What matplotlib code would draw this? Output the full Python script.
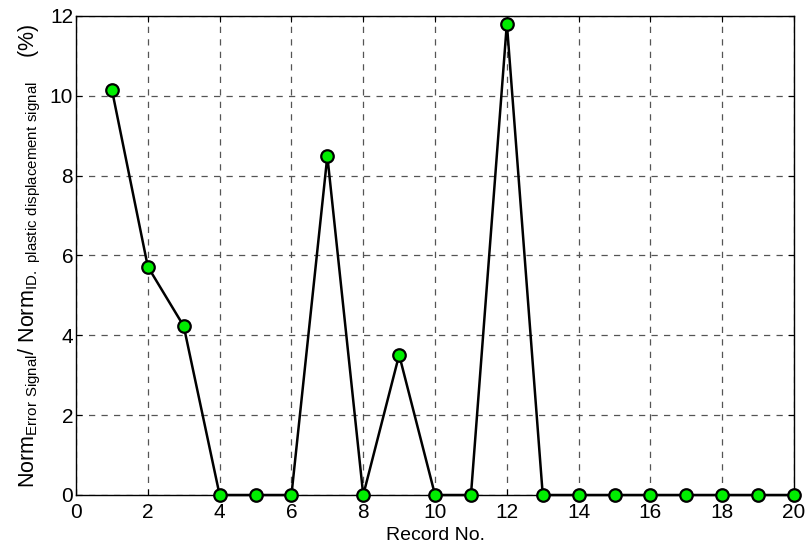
import matplotlib
matplotlib.use("Agg")
import matplotlib.pyplot as plt

plt.rcParams['font.family'] = ['Liberation Sans', 'DejaVu Sans']
plt.rcParams['mathtext.fontset'] = 'custom'
plt.rcParams['mathtext.rm'] = 'Liberation Sans'

# Data
records = list(range(1, 21))
ratio = [10.15, 5.72, 4.23, 0, 0, 0, 8.49, 0, 3.51, 0,
         0, 11.81, 0, 0, 0, 0, 0, 0, 0, 0]
xticks = list(range(0, 21, 2))
yticks = list(range(0, 13, 2))

fig = plt.figure(figsize=(8.07, 5.5), dpi=100)
ax = fig.add_axes([0.0942, 0.1, 0.8898, 0.871])

ax.plot(records, ratio, color='black', linewidth=1.8, marker='o',
        markersize=9, markerfacecolor='#00ee00', markeredgecolor='black',
        markeredgewidth=1.6, clip_on=False, zorder=3)

ax.set_xlim(0, 20)
ax.set_ylim(0, 12)
ax.set_xticks(xticks)
ax.set_yticks(yticks)
ax.tick_params(direction='in', labelsize=15, top=True, right=True, length=4)
ax.tick_params(axis='x', pad=6)
ax.tick_params(axis='y', pad=2)
ax.grid(True, color='#555555', linestyle=(0, (5, 5)), linewidth=0.9)
for s in ax.spines.values():
    s.set_linewidth(1.0)

ax.set_xlabel("Record No.", fontsize=14, labelpad=3)
ax.set_ylabel(r"Norm$_{\mathrm{Error\ Signal}}$/ Norm$_{\mathrm{ID.\ plastic\ displacement\ signal}}$    (%)",
              fontsize=15.5, labelpad=5)

fig.savefig("out.png", dpi=100)
